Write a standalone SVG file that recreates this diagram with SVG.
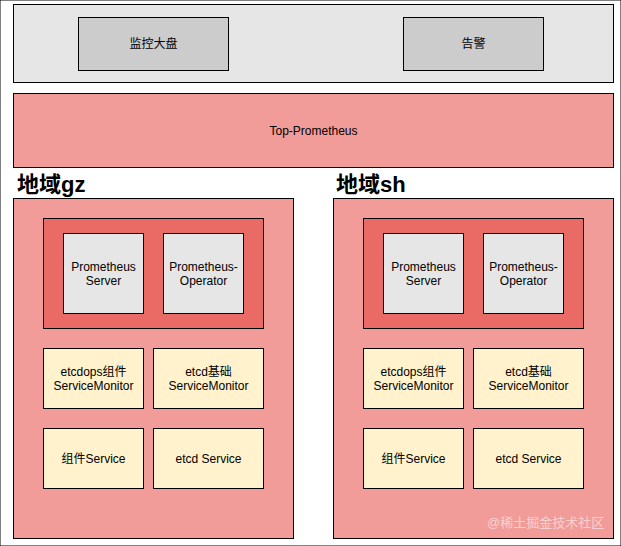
<svg xmlns="http://www.w3.org/2000/svg" width="621" height="546" viewBox="0 0 621 546">
<style>
rect{stroke:#000;stroke-width:1}
.g{fill:#e6e6e6}
.d{fill:#cccccc}
.p{fill:#f19c99}
.r{fill:#ea6b66}
.y{fill:#fff2cc}
text{font-family:"Liberation Sans","Noto Sans CJK SC",Arial,sans-serif;font-size:12px;fill:#000;text-anchor:middle}
.h{font-size:22px;font-weight:bold;text-anchor:start}
.w{font-size:13px;fill:#ffffff;fill-opacity:0.55;text-anchor:start}
</style>
<rect width="621" height="546" fill="#fff" stroke="none"/>
<g id="top">
<rect class="g" x="13.5" y="4.5" width="600" height="78"/>
</g>
<g id="dashboard">
<rect class="d" x="78.5" y="17.5" width="150" height="53"/>
<text x="153.5" y="48">监控大盘</text>
</g>
<g id="alert">
<rect class="d" x="403.5" y="17.5" width="140" height="53"/>
<text x="473.5" y="48">告警</text>
</g>
<g id="top-prometheus">
<rect class="p" x="13.5" y="93.5" width="600" height="74"/>
<text x="313.5" y="135">Top-Prometheus</text>
</g>
<g id="label-gz"><text class="h" x="17" y="192">地域gz</text></g>
<g id="label-sh"><text class="h" x="336" y="192">地域sh</text></g>
<g id="region-gz">
<rect class="p" x="13.5" y="198.5" width="280" height="340"/>
</g>
<g id="prom-group-gz">
<rect class="r" x="43.5" y="218.5" width="220" height="110"/>
</g>
<g id="prom-server-gz">
<rect class="g" x="63.5" y="233.5" width="80" height="80"/>
<text x="103.5" y="271">Prometheus</text><text x="103.5" y="285">Server</text>
</g>
<g id="prom-operator-gz">
<rect class="g" x="163.5" y="233.5" width="80" height="80"/>
<text x="203.5" y="271">Prometheus-</text><text x="203.5" y="285">Operator</text>
</g>
<g id="sm-etcdops-gz">
<rect class="y" x="43.5" y="348.5" width="100" height="60"/>
<text x="93.5" y="376">etcdops组件</text><text x="93.5" y="390">ServiceMonitor</text>
</g>
<g id="sm-etcd-gz">
<rect class="y" x="153.5" y="348.5" width="110" height="60"/>
<text x="208.5" y="376">etcd基础</text><text x="208.5" y="390">ServiceMonitor</text>
</g>
<g id="svc-comp-gz">
<rect class="y" x="43.5" y="428.5" width="100" height="60"/>
<text x="93.5" y="463">组件Service</text>
</g>
<g id="svc-etcd-gz">
<rect class="y" x="153.5" y="428.5" width="110" height="60"/>
<text x="208.5" y="463">etcd Service</text>
</g>
<g id="region-sh">
<rect class="p" x="333.5" y="198.5" width="280" height="340"/>
</g>
<g id="prom-group-sh">
<rect class="r" x="363.5" y="218.5" width="220" height="110"/>
</g>
<g id="prom-server-sh">
<rect class="g" x="383.5" y="233.5" width="80" height="80"/>
<text x="423.5" y="271">Prometheus</text><text x="423.5" y="285">Server</text>
</g>
<g id="prom-operator-sh">
<rect class="g" x="483.5" y="233.5" width="80" height="80"/>
<text x="523.5" y="271">Prometheus-</text><text x="523.5" y="285">Operator</text>
</g>
<g id="sm-etcdops-sh">
<rect class="y" x="363.5" y="348.5" width="100" height="60"/>
<text x="413.5" y="376">etcdops组件</text><text x="413.5" y="390">ServiceMonitor</text>
</g>
<g id="sm-etcd-sh">
<rect class="y" x="473.5" y="348.5" width="110" height="60"/>
<text x="528.5" y="376">etcd基础</text><text x="528.5" y="390">ServiceMonitor</text>
</g>
<g id="svc-comp-sh">
<rect class="y" x="363.5" y="428.5" width="100" height="60"/>
<text x="413.5" y="463">组件Service</text>
</g>
<g id="svc-etcd-sh">
<rect class="y" x="473.5" y="428.5" width="110" height="60"/>
<text x="528.5" y="463">etcd Service</text>
</g>
<g id="connectors"></g>
<text class="w" x="487" y="527">@稀土掘金技术社区</text>
</svg>
